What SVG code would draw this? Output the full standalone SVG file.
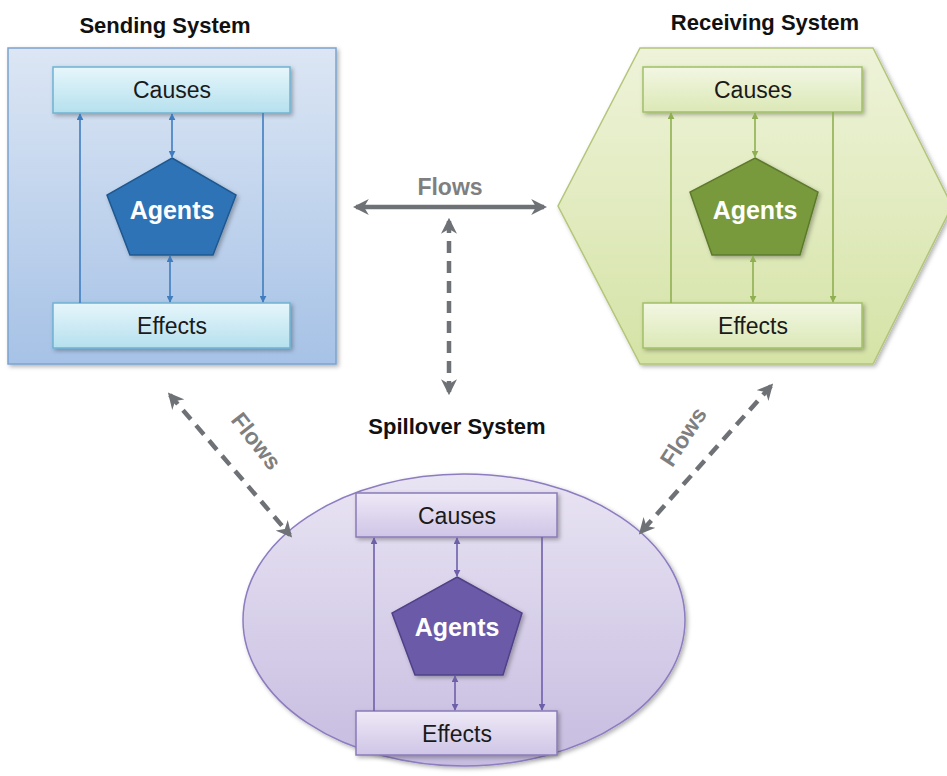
<svg xmlns="http://www.w3.org/2000/svg" width="947" height="776" viewBox="0 0 947 776">
<style>
.title{font-family:"Liberation Sans",Arial,sans-serif;font-weight:bold;font-size:22px;fill:#111;text-anchor:middle}
.lbl{font-family:"Liberation Sans",Arial,sans-serif;font-size:23px;fill:#1a1a1a;text-anchor:middle}
.ag{font-family:"Liberation Sans",Arial,sans-serif;font-weight:bold;font-size:25px;fill:#fff;text-anchor:middle}
.flow{font-family:"Liberation Sans",Arial,sans-serif;font-weight:bold;font-size:23px;fill:#7f7f7f;text-anchor:middle}
.g{stroke:#6e7175;stroke-width:4.5;fill:none}
.d{stroke-dasharray:12 8}
.b{stroke:#3f7dbf;stroke-width:1.6;fill:none}
.gr{stroke:#8fb050;stroke-width:1.6;fill:none}
.p{stroke:#6e5faa;stroke-width:1.6;fill:none}
</style>
<defs>
<linearGradient id="sq" x1="0" y1="0" x2="0" y2="1"><stop offset="0" stop-color="#dce6f4"/><stop offset="1" stop-color="#a6c2e6"/></linearGradient>
<linearGradient id="bbox" x1="0" y1="0" x2="0" y2="1"><stop offset="0" stop-color="#e6f6fb"/><stop offset="1" stop-color="#b5e0ee"/></linearGradient>
<linearGradient id="hx" x1="0" y1="0" x2="0" y2="1"><stop offset="0" stop-color="#eef3d9"/><stop offset="1" stop-color="#d5e3a6"/></linearGradient>
<linearGradient id="gbox" x1="0" y1="0" x2="0" y2="1"><stop offset="0" stop-color="#f2f7e3"/><stop offset="1" stop-color="#dbe8b6"/></linearGradient>
<linearGradient id="el" x1="0" y1="0" x2="0" y2="1"><stop offset="0" stop-color="#e9e4f3"/><stop offset="1" stop-color="#c6bce0"/></linearGradient>
<linearGradient id="pbox" x1="0" y1="0" x2="0" y2="1"><stop offset="0" stop-color="#eee9f7"/><stop offset="1" stop-color="#cfc5e6"/></linearGradient>
<filter id="sh" x="-10%" y="-10%" width="125%" height="125%"><feDropShadow dx="2" dy="2" stdDeviation="2" flood-color="#000" flood-opacity="0.3"/></filter>
<marker id="mb" viewBox="0 0 10 10" refX="9" refY="5" markerWidth="7" markerHeight="7" orient="auto-start-reverse" markerUnits="userSpaceOnUse"><path d="M0,0L10,5L0,10z" fill="#3f7dbf"/></marker>
<marker id="mg" viewBox="0 0 10 10" refX="9" refY="5" markerWidth="7" markerHeight="7" orient="auto-start-reverse" markerUnits="userSpaceOnUse"><path d="M0,0L10,5L0,10z" fill="#8fb050"/></marker>
<marker id="mp" viewBox="0 0 10 10" refX="9" refY="5" markerWidth="7" markerHeight="7" orient="auto-start-reverse" markerUnits="userSpaceOnUse"><path d="M0,0L10,5L0,10z" fill="#6e5faa"/></marker>
<marker id="mgy" viewBox="0 0 10 10" refX="8" refY="5" markerWidth="16" markerHeight="16" orient="auto-start-reverse" markerUnits="userSpaceOnUse"><path d="M0,0L10,5L0,10L3,5z" fill="#6e7175"/></marker>
</defs>
<rect width="947" height="776" fill="#fff"/>

<g id="sending">
<text class="title" x="165" y="33">Sending System</text>
<rect x="8" y="48" width="328" height="316" fill="url(#sq)" stroke="#7ba3cf" stroke-width="1.5" filter="url(#sh)"/>
<rect id="s-causes" x="53" y="67" width="237" height="46" fill="url(#bbox)" stroke="#6fb3d2" stroke-width="1.5" filter="url(#sh)"/>
<text class="lbl" x="172" y="98">Causes</text>
<rect id="s-effects" x="53" y="303" width="237" height="45" fill="url(#bbox)" stroke="#6fb3d2" stroke-width="1.5" filter="url(#sh)"/>
<text class="lbl" x="172" y="334">Effects</text>
<polygon id="s-agents" points="172,158 236,195 213,255 130,255 107,195" fill="#2f73b6" stroke="#1f5890" stroke-width="1.5" filter="url(#sh)"/>
<text class="ag" x="172" y="219">Agents</text>
</g>

<g id="receiving">
<text class="title" x="765" y="30">Receiving System</text>
<polygon points="640,48 873,48 952,206 873,364 640,364 558,206" fill="url(#hx)" stroke="#b3c67a" stroke-width="1.5" filter="url(#sh)"/>
<rect id="r-causes" x="643" y="67" width="219" height="45" fill="url(#gbox)" stroke="#a3bf68" stroke-width="1.5" filter="url(#sh)"/>
<text class="lbl" x="753" y="98">Causes</text>
<rect id="r-effects" x="643" y="303" width="219" height="45" fill="url(#gbox)" stroke="#a3bf68" stroke-width="1.5" filter="url(#sh)"/>
<text class="lbl" x="753" y="334">Effects</text>
<polygon id="r-agents" points="755,158 818,192 800,255 712,255 690,192" fill="#789a3e" stroke="#5d7a2c" stroke-width="1.5" filter="url(#sh)"/>
<text class="ag" x="755" y="219" fill="#eef3e0">Agents</text>
</g>

<g id="spillover">
<text class="title" x="457" y="434">Spillover System</text>
<ellipse cx="464" cy="620" rx="221" ry="146" fill="url(#el)" stroke="#8d7cc0" stroke-width="1.5" filter="url(#sh)"/>
<rect id="p-causes" x="356" y="493" width="201" height="44" fill="url(#pbox)" stroke="#8b7bb8" stroke-width="1.5" filter="url(#sh)"/>
<text class="lbl" x="457" y="524">Causes</text>
<rect id="p-effects" x="356" y="711" width="201" height="44" fill="url(#pbox)" stroke="#8b7bb8" stroke-width="1.5" filter="url(#sh)"/>
<text class="lbl" x="457" y="742">Effects</text>
<polygon id="p-agents" points="457,577 522,613 503,675 415,675 392,613" fill="#6a5aa8" stroke="#4f4188" stroke-width="1.5" filter="url(#sh)"/>
<text class="ag" x="457" y="636">Agents</text>
</g>

<g id="connectors">
<line class="b" x1="80" y1="303" x2="80" y2="114" marker-end="url(#mb)"/>
<line class="b" x1="263" y1="113" x2="263" y2="302" marker-end="url(#mb)"/>
<line class="b" x1="172" y1="114" x2="172" y2="157" marker-start="url(#mb)" marker-end="url(#mb)"/>
<line class="b" x1="170" y1="256" x2="170" y2="302" marker-start="url(#mb)" marker-end="url(#mb)"/>

<line class="gr" x1="671" y1="303" x2="671" y2="113" marker-end="url(#mg)"/>
<line class="gr" x1="833" y1="112" x2="833" y2="302" marker-end="url(#mg)"/>
<line class="gr" x1="755" y1="113" x2="755" y2="157" marker-start="url(#mg)" marker-end="url(#mg)"/>
<line class="gr" x1="753" y1="256" x2="753" y2="302" marker-start="url(#mg)" marker-end="url(#mg)"/>

<line class="p" x1="374" y1="711" x2="374" y2="538" marker-end="url(#mp)"/>
<line class="p" x1="542" y1="537" x2="542" y2="710" marker-end="url(#mp)"/>
<line class="p" x1="457" y1="538" x2="457" y2="576" marker-start="url(#mp)" marker-end="url(#mp)"/>
<line class="p" x1="455" y1="676" x2="455" y2="710" marker-start="url(#mp)" marker-end="url(#mp)"/>

<line class="g" x1="356" y1="207" x2="544" y2="207" marker-start="url(#mgy)" marker-end="url(#mgy)"/>
<line class="g d" x1="449" y1="221" x2="449" y2="392" marker-start="url(#mgy)" marker-end="url(#mgy)"/>
<line class="g d" x1="170" y1="395" x2="290" y2="535" marker-start="url(#mgy)" marker-end="url(#mgy)"/>
<line class="g d" x1="771" y1="386" x2="641" y2="532" marker-start="url(#mgy)" marker-end="url(#mgy)"/>
<text class="flow" x="450" y="195">Flows</text>
<text class="flow" transform="translate(250,446) rotate(52)" x="0" y="0">Flows</text>
<text class="flow" transform="translate(690,441) rotate(-57)" x="0" y="0">Flows</text>
</g>
</svg>
